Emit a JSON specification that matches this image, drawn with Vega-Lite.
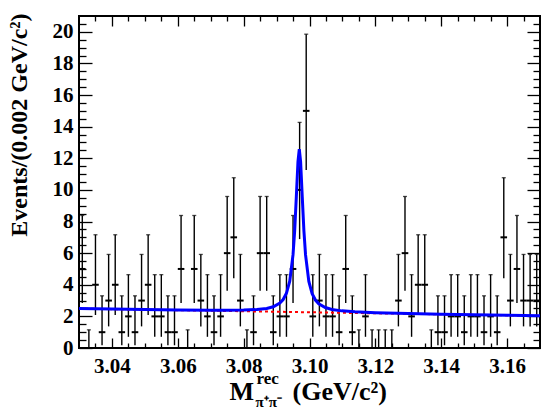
{
  "$schema": "https://vega.github.io/schema/vega-lite/v6.json",
  "width": 461,
  "height": 332,
  "autosize": {"type": "none"},
  "padding": {"left": 79, "top": 16, "right": 10, "bottom": 62},
  "background": "white",
  "config": {
    "view": {"stroke": "black", "strokeWidth": 2},
    "font": "Liberation Serif",
    "axis": {
      "grid": false,
      "domain": false,
      "tickColor": "black",
      "tickWidth": 1.3,
      "labelFont": "Liberation Serif",
      "labelFontWeight": "bold",
      "labelFontSize": 21,
      "labelColor": "black",
      "titleFont": "Liberation Serif",
      "titleFontWeight": "bold",
      "titleColor": "black"
    }
  },
  "datasets": {
    "bins": [
      {"a": 3.030, "m": 3.031, "b": 3.032, "n": 5, "lo": 2.840, "hi": 8.382},
      {"a": 3.032, "m": 3.033, "b": 3.034, "n": 0, "lo": 0, "hi": 1.148},
      {"a": 3.034, "m": 3.035, "b": 3.036, "n": 4, "lo": 2.086, "hi": 7.163},
      {"a": 3.036, "m": 3.037, "b": 3.038, "n": 1, "lo": 0.173, "hi": 3.300},
      {"a": 3.038, "m": 3.039, "b": 3.040, "n": 3, "lo": 1.367, "hi": 5.918},
      {"a": 3.040, "m": 3.041, "b": 3.042, "n": 4, "lo": 2.086, "hi": 7.163},
      {"a": 3.042, "m": 3.043, "b": 3.044, "n": 1, "lo": 0.173, "hi": 3.300},
      {"a": 3.044, "m": 3.045, "b": 3.046, "n": 2, "lo": 0.708, "hi": 4.638},
      {"a": 3.046, "m": 3.047, "b": 3.048, "n": 1, "lo": 0.173, "hi": 3.300},
      {"a": 3.048, "m": 3.049, "b": 3.050, "n": 3, "lo": 1.367, "hi": 5.918},
      {"a": 3.050, "m": 3.051, "b": 3.052, "n": 4, "lo": 2.086, "hi": 7.163},
      {"a": 3.052, "m": 3.053, "b": 3.054, "n": 2, "lo": 0.708, "hi": 4.638},
      {"a": 3.054, "m": 3.055, "b": 3.056, "n": 2, "lo": 0.708, "hi": 4.638},
      {"a": 3.056, "m": 3.057, "b": 3.058, "n": 1, "lo": 0.173, "hi": 3.300},
      {"a": 3.058, "m": 3.059, "b": 3.060, "n": 1, "lo": 0.173, "hi": 3.300},
      {"a": 3.060, "m": 3.061, "b": 3.062, "n": 5, "lo": 2.840, "hi": 8.382},
      {"a": 3.062, "m": 3.063, "b": 3.064, "n": 0, "lo": 0, "hi": 1.148},
      {"a": 3.064, "m": 3.065, "b": 3.066, "n": 5, "lo": 2.840, "hi": 8.382},
      {"a": 3.066, "m": 3.067, "b": 3.068, "n": 3, "lo": 1.367, "hi": 5.918},
      {"a": 3.068, "m": 3.069, "b": 3.070, "n": 2, "lo": 0.708, "hi": 4.638},
      {"a": 3.070, "m": 3.071, "b": 3.072, "n": 1, "lo": 0.173, "hi": 3.300},
      {"a": 3.072, "m": 3.073, "b": 3.074, "n": 2, "lo": 0.708, "hi": 4.638},
      {"a": 3.074, "m": 3.075, "b": 3.076, "n": 6, "lo": 3.620, "hi": 9.584},
      {"a": 3.076, "m": 3.077, "b": 3.078, "n": 7, "lo": 4.417, "hi": 10.77},
      {"a": 3.078, "m": 3.079, "b": 3.080, "n": 3, "lo": 1.367, "hi": 5.918},
      {"a": 3.080, "m": 3.081, "b": 3.082, "n": 0, "lo": 0, "hi": 1.148},
      {"a": 3.082, "m": 3.083, "b": 3.084, "n": 1, "lo": 0.173, "hi": 3.300},
      {"a": 3.084, "m": 3.085, "b": 3.086, "n": 6, "lo": 3.620, "hi": 9.584},
      {"a": 3.086, "m": 3.087, "b": 3.088, "n": 6, "lo": 3.620, "hi": 9.584},
      {"a": 3.088, "m": 3.089, "b": 3.090, "n": 1, "lo": 0.173, "hi": 3.300},
      {"a": 3.090, "m": 3.091, "b": 3.092, "n": 2, "lo": 0.708, "hi": 4.638},
      {"a": 3.092, "m": 3.093, "b": 3.094, "n": 2, "lo": 0.708, "hi": 4.638},
      {"a": 3.094, "m": 3.095, "b": 3.096, "n": 5, "lo": 2.840, "hi": 8.382},
      {"a": 3.096, "m": 3.097, "b": 3.098, "n": 10, "lo": 6.889, "hi": 14.27},
      {"a": 3.098, "m": 3.099, "b": 3.100, "n": 15, "lo": 11.26, "hi": 19.85},
      {"a": 3.100, "m": 3.101, "b": 3.102, "n": 2, "lo": 0.708, "hi": 4.638},
      {"a": 3.102, "m": 3.103, "b": 3.104, "n": 3, "lo": 1.367, "hi": 5.918},
      {"a": 3.104, "m": 3.105, "b": 3.106, "n": 2, "lo": 0.708, "hi": 4.638},
      {"a": 3.106, "m": 3.107, "b": 3.108, "n": 2, "lo": 0.708, "hi": 4.638},
      {"a": 3.108, "m": 3.109, "b": 3.110, "n": 1, "lo": 0.173, "hi": 3.300},
      {"a": 3.110, "m": 3.111, "b": 3.112, "n": 5, "lo": 2.840, "hi": 8.382},
      {"a": 3.112, "m": 3.113, "b": 3.114, "n": 1, "lo": 0.173, "hi": 3.300},
      {"a": 3.114, "m": 3.115, "b": 3.116, "n": 0, "lo": 0, "hi": 1.148},
      {"a": 3.116, "m": 3.117, "b": 3.118, "n": 2, "lo": 0.708, "hi": 4.638},
      {"a": 3.118, "m": 3.119, "b": 3.120, "n": 0, "lo": 0, "hi": 1.148},
      {"a": 3.120, "m": 3.121, "b": 3.122, "n": 0, "lo": 0, "hi": 1.148},
      {"a": 3.122, "m": 3.123, "b": 3.124, "n": 0, "lo": 0, "hi": 1.148},
      {"a": 3.124, "m": 3.125, "b": 3.126, "n": 0, "lo": 0, "hi": 1.148},
      {"a": 3.126, "m": 3.127, "b": 3.128, "n": 3, "lo": 1.367, "hi": 5.918},
      {"a": 3.128, "m": 3.129, "b": 3.130, "n": 6, "lo": 3.620, "hi": 9.584},
      {"a": 3.130, "m": 3.131, "b": 3.132, "n": 2, "lo": 0.708, "hi": 4.638},
      {"a": 3.132, "m": 3.133, "b": 3.134, "n": 4, "lo": 2.086, "hi": 7.163},
      {"a": 3.134, "m": 3.135, "b": 3.136, "n": 4, "lo": 2.086, "hi": 7.163},
      {"a": 3.136, "m": 3.137, "b": 3.138, "n": 0, "lo": 0, "hi": 1.148},
      {"a": 3.138, "m": 3.139, "b": 3.140, "n": 1, "lo": 0.173, "hi": 3.300},
      {"a": 3.140, "m": 3.141, "b": 3.142, "n": 1, "lo": 0.173, "hi": 3.300},
      {"a": 3.142, "m": 3.143, "b": 3.144, "n": 2, "lo": 0.708, "hi": 4.638},
      {"a": 3.144, "m": 3.145, "b": 3.146, "n": 2, "lo": 0.708, "hi": 4.638},
      {"a": 3.146, "m": 3.147, "b": 3.148, "n": 1, "lo": 0.173, "hi": 3.300},
      {"a": 3.148, "m": 3.149, "b": 3.150, "n": 2, "lo": 0.708, "hi": 4.638},
      {"a": 3.150, "m": 3.151, "b": 3.152, "n": 2, "lo": 0.708, "hi": 4.638},
      {"a": 3.152, "m": 3.153, "b": 3.154, "n": 1, "lo": 0.173, "hi": 3.300},
      {"a": 3.154, "m": 3.155, "b": 3.156, "n": 2, "lo": 0.708, "hi": 4.638},
      {"a": 3.156, "m": 3.157, "b": 3.158, "n": 1, "lo": 0.173, "hi": 3.300},
      {"a": 3.158, "m": 3.159, "b": 3.160, "n": 7, "lo": 4.417, "hi": 10.77},
      {"a": 3.160, "m": 3.161, "b": 3.162, "n": 3, "lo": 1.367, "hi": 5.918},
      {"a": 3.162, "m": 3.163, "b": 3.164, "n": 5, "lo": 2.840, "hi": 8.382},
      {"a": 3.164, "m": 3.165, "b": 3.166, "n": 3, "lo": 1.367, "hi": 5.918},
      {"a": 3.166, "m": 3.167, "b": 3.168, "n": 3, "lo": 1.367, "hi": 5.918},
      {"a": 3.168, "m": 3.169, "b": 3.170, "n": 3, "lo": 1.367, "hi": 5.918}
    ],
    "bkg": [
      {"m": 3.030, "v": 2.490},
      {"m": 3.170, "v": 2.030}
    ],
    "fit": [
      {"m": 3.030, "v": 2.494},
      {"m": 3.040, "v": 2.463},
      {"m": 3.050, "v": 2.433},
      {"m": 3.060, "v": 2.406},
      {"m": 3.070, "v": 2.387},
      {"m": 3.075, "v": 2.384},
      {"m": 3.080, "v": 2.396},
      {"m": 3.084, "v": 2.433},
      {"m": 3.087, "v": 2.505},
      {"m": 3.089, "v": 2.610},
      {"m": 3.091, "v": 2.839},
      {"m": 3.092, "v": 3.064},
      {"m": 3.093, "v": 3.459},
      {"m": 3.094, "v": 4.227},
      {"m": 3.095, "v": 5.901},
      {"m": 3.0955, "v": 7.425},
      {"m": 3.096, "v": 9.563},
      {"m": 3.0965, "v": 11.795},
      {"m": 3.0969, "v": 12.571},
      {"m": 3.0973, "v": 11.793},
      {"m": 3.0978, "v": 9.557},
      {"m": 3.0983, "v": 7.417},
      {"m": 3.0988, "v": 5.889},
      {"m": 3.0998, "v": 4.209},
      {"m": 3.1008, "v": 3.435},
      {"m": 3.1018, "v": 3.033},
      {"m": 3.1028, "v": 2.801},
      {"m": 3.1048, "v": 2.560},
      {"m": 3.1068, "v": 2.441},
      {"m": 3.1098, "v": 2.349},
      {"m": 3.1138, "v": 2.286},
      {"m": 3.120, "v": 2.234},
      {"m": 3.130, "v": 2.179},
      {"m": 3.140, "v": 2.140},
      {"m": 3.150, "v": 2.103},
      {"m": 3.160, "v": 2.068},
      {"m": 3.170, "v": 2.034}
    ]
  },
  "resolve": {"axis": {"x": "independent", "y": "independent"}},
  "layer": [
    {
      "data": {"name": "bins"},
      "mark": {"type": "rule", "color": "black", "strokeWidth": 1.4, "clip": true},
      "encoding": {
        "x": {"field": "m", "type": "quantitative",
              "scale": {"domain": [3.03, 3.17], "nice": false, "zero": false},
              "axis": {"orient": "top", "values": [3.04, 3.06, 3.08, 3.10, 3.12, 3.14, 3.16],
                       "labels": false, "tickSize": -10,
                       "title": "π⁺π⁻", "titleFontSize": 15, "titleAngle": 0,
                       "titleAlign": "left", "titleBaseline": "alphabetic",
                       "titleX": 176, "titleY": 390}},
        "y": {"field": "lo", "type": "quantitative",
              "scale": {"domain": [0, 21], "nice": false, "zero": true},
              "axis": {"orient": "right", "values": [0, 2, 4, 6, 8, 10, 12, 14, 16, 18, 20],
                       "labels": false, "tickSize": -13, "title": null}},
        "y2": {"field": "hi"}
      }
    },
    {
      "data": {"name": "bins"},
      "transform": [{"filter": "datum.n > 0"}],
      "mark": {"type": "rule", "color": "black", "strokeWidth": 2, "clip": true},
      "encoding": {
        "x": {"field": "a", "type": "quantitative",
              "scale": {"domain": [3.03, 3.17], "nice": false, "zero": false},
              "axis": {"orient": "top",
                       "values": [3.035, 3.045, 3.05, 3.055, 3.065, 3.07, 3.075, 3.085, 3.09, 3.095, 3.105, 3.11, 3.115, 3.125, 3.13, 3.135, 3.145, 3.15, 3.155, 3.165],
                       "labels": false, "tickSize": -5,
                       "title": "(GeV/c²)", "titleFontSize": 26, "titleAngle": 0,
                       "titleAlign": "left", "titleBaseline": "alphabetic",
                       "titleX": 213, "titleY": 383}},
        "x2": {"field": "b"},
        "y": {"field": "n", "type": "quantitative",
              "scale": {"domain": [0, 21], "nice": false, "zero": true},
              "axis": {"orient": "right",
                       "values": [0.5, 1, 1.5, 2.5, 3, 3.5, 4.5, 5, 5.5, 6.5, 7, 7.5, 8.5, 9, 9.5, 10.5, 11, 11.5, 12.5, 13, 13.5, 14.5, 15, 15.5, 16.5, 17, 17.5, 18.5, 19, 19.5, 20.5],
                       "labels": false, "tickSize": -7, "title": null}}
      }
    },
    {
      "data": {"name": "bins"},
      "mark": {"type": "tick", "orient": "horizontal", "color": "black", "size": 4, "thickness": 1.3, "clip": true},
      "encoding": {
        "x": {"field": "m", "type": "quantitative",
              "scale": {"domain": [3.03, 3.17], "nice": false, "zero": false}, "axis": null},
        "y": {"field": "hi", "type": "quantitative",
              "scale": {"domain": [0, 21], "nice": false, "zero": true}, "axis": null}
      }
    },
    {
      "data": {"name": "bkg"},
      "mark": {"type": "line", "color": "#ff0000", "strokeWidth": 2, "strokeDash": [3, 3], "clip": true},
      "encoding": {
        "x": {"field": "m", "type": "quantitative",
              "scale": {"domain": [3.03, 3.17], "nice": false, "zero": false},
              "axis": {"orient": "bottom", "values": [3.04, 3.06, 3.08, 3.10, 3.12, 3.14, 3.16],
                       "format": ".2f", "tickSize": -10, "labelPadding": 17,
                       "title": "M", "titleFontSize": 26, "titleAngle": 0,
                       "titleAlign": "left", "titleBaseline": "alphabetic",
                       "titleX": 150, "titleY": 51}},
        "y": {"field": "v", "type": "quantitative",
              "scale": {"domain": [0, 21], "nice": false, "zero": true},
              "axis": {"orient": "left", "values": [0, 2, 4, 6, 8, 10, 12, 14, 16, 18, 20],
                       "tickSize": -13, "labelPadding": 19,
                       "title": "Events/(0.002 GeV/c²)", "titleFontSize": 24,
                       "titleAngle": 270, "titleAlign": "right", "titleBaseline": "alphabetic",
                       "titleX": -53, "titleY": -3}}
      }
    },
    {
      "data": {"name": "fit"},
      "mark": {"type": "line", "color": "#0000ff", "strokeWidth": 3, "clip": true},
      "encoding": {
        "x": {"field": "m", "type": "quantitative",
              "scale": {"domain": [3.03, 3.17], "nice": false, "zero": false},
              "axis": {"orient": "bottom",
                       "values": [3.035, 3.045, 3.05, 3.055, 3.065, 3.07, 3.075, 3.085, 3.09, 3.095, 3.105, 3.11, 3.115, 3.125, 3.13, 3.135, 3.145, 3.15, 3.155, 3.165],
                       "labels": false, "tickSize": -5,
                       "title": "rec", "titleFontSize": 17, "titleAngle": 0,
                       "titleAlign": "left", "titleBaseline": "alphabetic",
                       "titleX": 177, "titleY": 35}},
        "y": {"field": "v", "type": "quantitative",
              "scale": {"domain": [0, 21], "nice": false, "zero": true},
              "axis": {"orient": "left",
                       "values": [0.5, 1, 1.5, 2.5, 3, 3.5, 4.5, 5, 5.5, 6.5, 7, 7.5, 8.5, 9, 9.5, 10.5, 11, 11.5, 12.5, 13, 13.5, 14.5, 15, 15.5, 16.5, 17, 17.5, 18.5, 19, 19.5, 20.5],
                       "labels": false, "tickSize": -7, "title": null}}
      }
    }
  ]
}
